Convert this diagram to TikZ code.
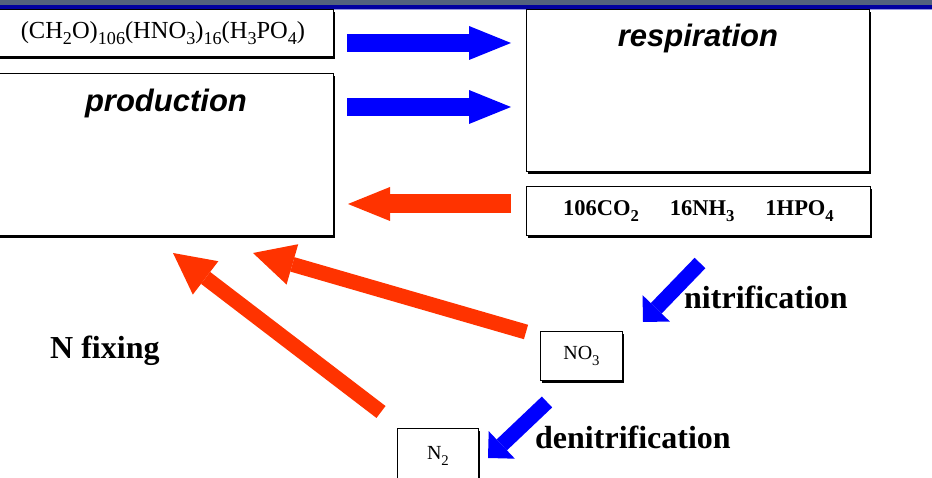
\documentclass[tikz,border=0pt]{standalone}
\usepackage{fontspec}
\setmainfont{Liberation Serif}
\newfontfamily\arialfam{Liberation Sans}
\usetikzlibrary{arrows.meta,shadows}
\definecolor{barGray}{RGB}{82,98,126}
\definecolor{barBlue}{RGB}{0,0,160}
\definecolor{barLine}{RGB}{150,150,220}
\definecolor{arrRed}{RGB}{255,51,0}
\definecolor{arrBlue}{RGB}{0,0,255}
\newcommand\chsub[1]{\raisebox{-0.28em}{\scalebox{0.74}{#1}}}
\begin{document}
\begin{tikzpicture}[x=1pt,y=1pt,
  box/.style={draw=black,line width=0.9pt,fill=white,rectangle,inner sep=0pt,anchor=south west,
    general shadow={fill=black,shadow xshift=2pt,shadow yshift=-2pt}},
  titlefont/.style={font=\arialfam\bfseries\itshape\fontsize{31}{36}\selectfont},
  labfont/.style={font=\bfseries\fontsize{32}{36}\selectfont},
  hblue/.style={draw=arrBlue,line width=18pt,-{Triangle[length=42pt,width=34pt,line width=0pt]}},
  hred/.style={draw=arrRed,line width=19pt,-{Triangle[length=42pt,width=34pt,line width=0pt]}},
  dred/.style={draw=arrRed,line width=15pt,-{Triangle[length=41pt,width=42pt,line width=0pt]}},
  dblue/.style={draw=arrBlue,line width=15pt,-{Triangle[length=19pt,width=38pt,line width=0pt]}}
]
\useasboundingbox (0,0) rectangle (932,478);
% top bar
\fill[barGray] (0,473) rectangle (932,478);
\fill[barBlue] (0,469) rectangle (932,473);
\fill[barLine] (0,468) rectangle (932,469);

% boxes
\node[box,minimum width=335pt,minimum height=47pt,font=\fontsize{24.5}{28}\selectfont] (form) at (-2,421)
  {\hspace*{-6pt}(CH\chsub{2}O)\chsub{106}(HNO\chsub{3})\chsub{16}(H\chsub{3}PO\chsub{4})};
\node[box,minimum width=335pt,minimum height=162pt,
  label={[titlefont,anchor=center,yshift=-30pt]north:production}] (prod) at (-2,242) {};
\node[box,minimum width=343pt,minimum height=162pt,
  label={[titlefont,anchor=center,yshift=-29pt]north:respiration}] (resp) at (526,306) {};
\node[box,minimum width=344pt,minimum height=49pt,font=\bfseries\fontsize{22.5}{26}\selectfont] (remin) at (526,242)
  {106CO\chsub{2}\hspace{31pt}16NH\chsub{3}\hspace{31pt}1HPO\chsub{4}};
\node[box,minimum width=82pt,minimum height=49pt,font=\fontsize{20}{22}\selectfont] (no3) at (540,97)
  {NO\chsub{3}};
\node[box,minimum width=81pt,minimum height=61pt,font=\fontsize{20}{22}\selectfont] (n2) at (397,-12)
  {\raisebox{12pt}{N\chsub{2}}};

% labels
\node[labfont,anchor=west,inner sep=0pt] (lnit) at (684,181) {nitrification};
\node[labfont,anchor=west,inner sep=0pt] (lden) at (535,41) {denitrification};
\node[labfont,anchor=west,inner sep=0pt] (lfix) at (50,127) {N fixing};

% arrow end points
\coordinate (b1s) at (347,435); \coordinate (b1e) at (511,435);
\coordinate (b2s) at (347,371); \coordinate (b2e) at (511,371);
\coordinate (r1s) at (511,274); \coordinate (r1e) at (348,274);
\coordinate (rAs) at (526,146); \coordinate (rAe) at (253,225);
\coordinate (rBs) at (381,66);  \coordinate (rBe) at (173,225);
\coordinate (nits) at (700,215); \coordinate (nite) at (643,156);
\coordinate (dens) at (547,76);  \coordinate (dene) at (488,20);

\draw[hblue] (b1s) -- (b1e);
\draw[hblue] (b2s) -- (b2e);
\draw[hred] (r1s) -- (r1e);
\draw[dred] (rAs) -- (rAe);
\draw[dred] (rBs) -- (rBe);
\draw[dblue] (nits) -- (nite);
\draw[dblue] (dens) -- (dene);
\end{tikzpicture}
\end{document}
